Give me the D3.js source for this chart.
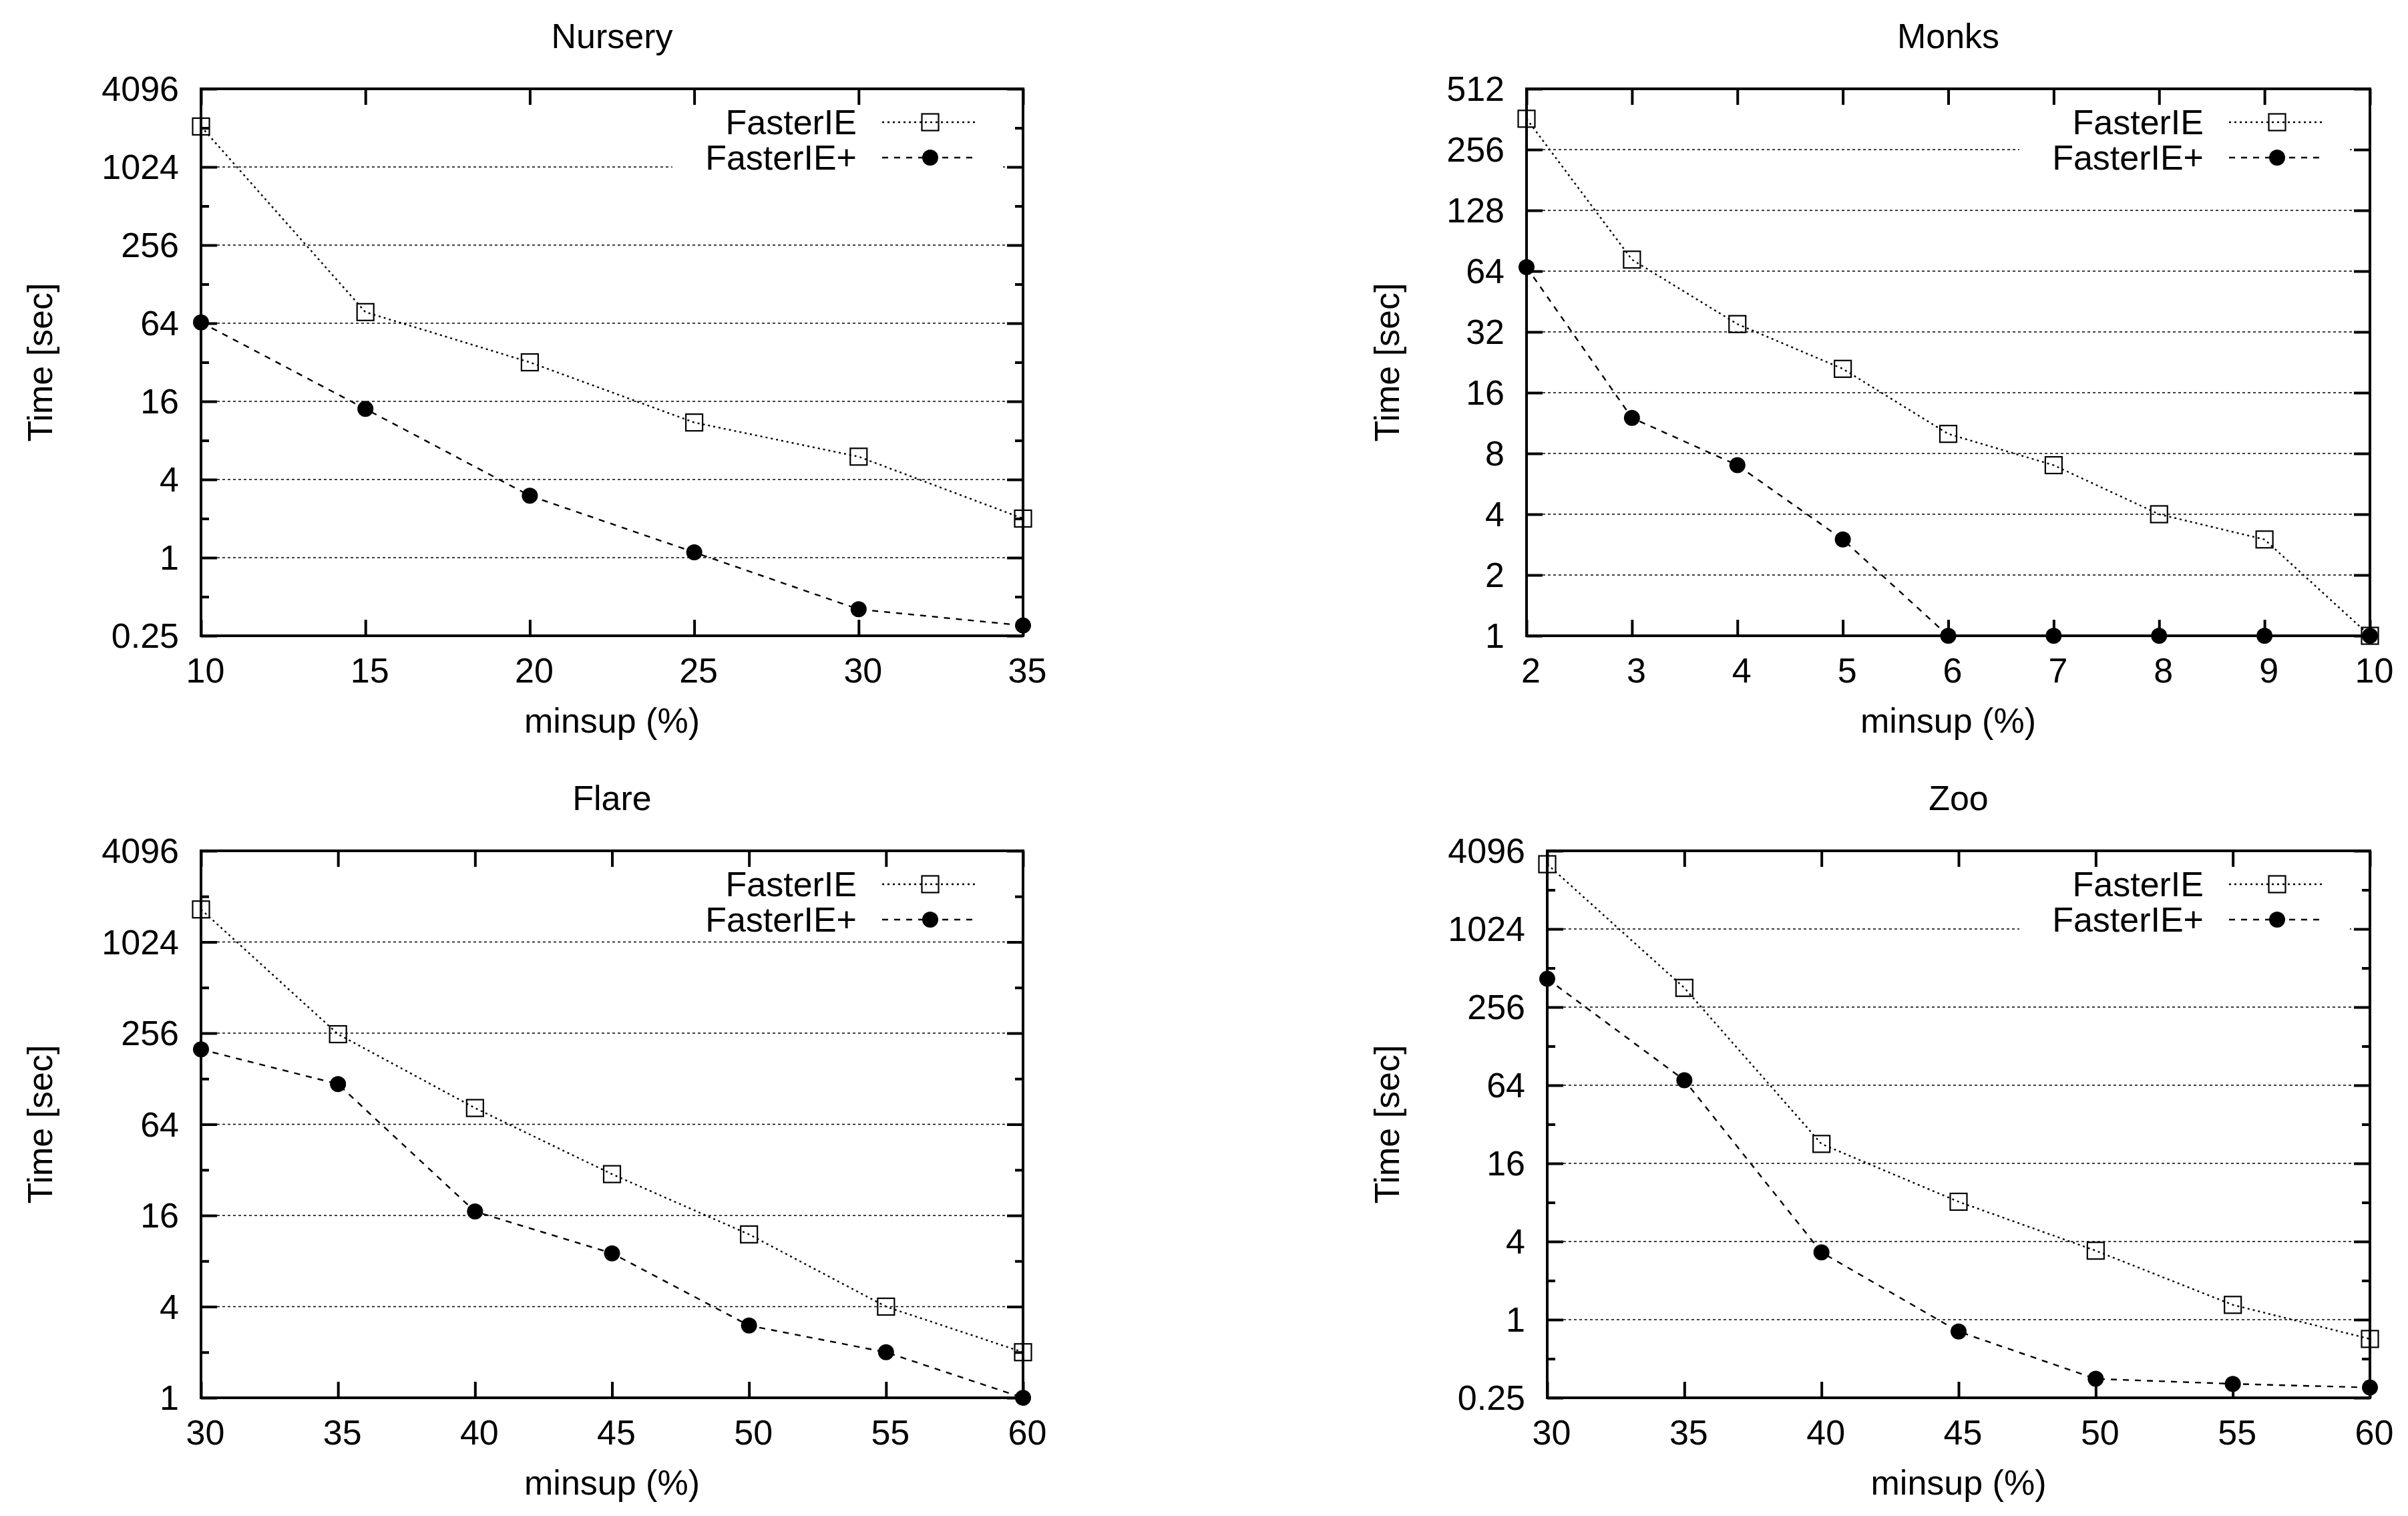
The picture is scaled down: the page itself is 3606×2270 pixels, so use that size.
<!DOCTYPE html>
<html>
<head>
<meta charset="utf-8">
<script src="https://cdn.jsdelivr.net/npm/d3@7"></script>
<style>
  body { margin: 0; background: #fff; }
  text { font-family: "Liberation Sans", Arial, sans-serif; }
</style>
</head>
<body>
<svg id="chart"></svg>
<script>
// ---- data ----
const nurseryMinsup = [10, 15, 20, 25, 30, 35];
const nurseryFasterIE = [2100, 78, 32, 11, 6, 2];
const nurseryFasterIEPlus = [65, 14, 3, 1.1, 0.4, 0.3];
const nurseryYTicks = [0.25, 1, 4, 16, 64, 256, 1024, 4096];
const nurseryYMinor = [0.5, 2, 8, 32, 128, 512, 2048];

const monksMinsup = [2, 3, 4, 5, 6, 7, 8, 9, 10];
const monksFasterIE = [364, 73, 35, 21, 10, 7, 4, 3, 1];
const monksFasterIEPlus = [67, 12, 7, 3, 1, 1, 1, 1, 1];
const monksYTicks = [1, 2, 4, 8, 16, 32, 64, 128, 256, 512];
const monksYMinor = [];

const flareMinsup = [30, 35, 40, 45, 50, 55, 60];
const flareFasterIE = [1680, 252, 82, 30, 12, 4, 2];
const flareFasterIEPlus = [200, 118, 17, 9, 3, 2, 1];
const flareYTicks = [1, 4, 16, 64, 256, 1024, 4096];
const flareYMinor = [2, 8, 32, 128, 512, 2048];

const zooMinsup = [30, 35, 40, 45, 50, 55, 60];
const zooFasterIE = [3230, 360, 22.6, 8.1, 3.4, 1.3, 0.71];
const zooFasterIEPlus = [423, 70, 3.3, 0.81, 0.35, 0.32, 0.30];
const zooYTicks = [0.25, 1, 4, 16, 64, 256, 1024, 4096];
const zooYMinor = [0.5, 2, 8, 32, 128, 512, 2048];

const seriesNames = ["FasterIE", "FasterIE+"];

const panels = [
  {title: "Nursery", x0: 0, y0: 0, left: 301, xs: nurseryMinsup, a: nurseryFasterIE, b: nurseryFasterIEPlus, yt: nurseryYTicks, ym: nurseryYMinor},
  {title: "Monks", x0: 2017, y0: 0, left: 269, xs: monksMinsup, a: monksFasterIE, b: monksFasterIEPlus, yt: monksYTicks, ym: monksYMinor},
  {title: "Flare", x0: 0, y0: 1141, left: 301, xs: flareMinsup, a: flareFasterIE, b: flareFasterIEPlus, yt: flareYTicks, ym: flareYMinor},
  {title: "Zoo", x0: 2017, y0: 1141, left: 300, xs: zooMinsup, a: zooFasterIE, b: zooFasterIEPlus, yt: zooYTicks, ym: zooYMinor}
];

const W = 3606, H = 2270;
const FS = 52;

const svg = d3.select("#chart").attr("width", W).attr("height", H);
svg.append("rect").attr("width", W).attr("height", H).attr("fill", "#fff");

const styles = [
  {dash: "3,5", marker: "square"},
  {dash: "9,9", marker: "circle"}
];

function drawMarker(g, kind, x, y) {
  if (kind === "square") {
    g.append("rect")
      .attr("x", x - 12.5).attr("y", y - 12.5)
      .attr("width", 25).attr("height", 25)
      .attr("fill", "none").attr("stroke", "#000").attr("stroke-width", 2.2);
  } else {
    g.append("circle")
      .attr("cx", x).attr("cy", y).attr("r", 12)
      .attr("fill", "#000");
  }
}

function styleAxis(g) {
  g.select(".domain").remove();
  g.selectAll(".tick line").attr("stroke", "#000").attr("stroke-width", 4);
  g.selectAll("text")
    .attr("fill", "#000")
    .style("font-family", "'Liberation Sans', Arial, sans-serif")
    .style("font-size", FS + "px");
  g.attr("font-size", null).attr("font-family", null);
}

panels.forEach(p => {
  const left = p.x0 + p.left, right = p.x0 + 1532;
  const top = p.y0 + 133, bottom = p.y0 + 952;
  const g = svg.append("g");

  const x = d3.scaleLinear().domain(d3.extent(p.xs)).range([left, right]);
  const y = d3.scaleLog().base(2)
    .domain([p.yt[0], p.yt[p.yt.length - 1]])
    .range([bottom, top]);

  // horizontal grid
  g.append("g").selectAll("line")
    .data(p.yt.slice(1, -1))
    .join("line")
    .attr("x1", left + 24).attr("x2", right - 24)
    .attr("y1", d => y(d)).attr("y2", d => y(d))
    .attr("stroke", "#000").attr("stroke-width", 1.3)
    .attr("stroke-dasharray", "4,4");

  // legend background clears the grid
  g.append("rect")
    .attr("x", right - 525).attr("y", top + 18)
    .attr("width", 495).attr("height", 110)
    .attr("fill", "#fff");

  // axes, ticks pointing inward
  const fmt = d => String(d);
  g.append("g").attr("transform", `translate(${left},0)`)
    .call(d3.axisLeft(y).tickValues(p.yt).tickFormat(fmt).tickSize(-24).tickPadding(33))
    .call(styleAxis)
    .selectAll("text").attr("dy", "0.34em");
  g.append("g").attr("transform", `translate(${left},0)`)
    .call(d3.axisLeft(y).tickValues(p.ym).tickFormat("").tickSize(-12))
    .call(styleAxis);
  g.append("g").attr("transform", `translate(${right},0)`)
    .call(d3.axisRight(y).tickValues(p.yt).tickFormat("").tickSize(-24))
    .call(styleAxis);
  g.append("g").attr("transform", `translate(${right},0)`)
    .call(d3.axisRight(y).tickValues(p.ym).tickFormat("").tickSize(-12))
    .call(styleAxis);
  g.append("g").attr("transform", `translate(0,${bottom})`)
    .call(d3.axisBottom(x).tickValues(p.xs).tickFormat(fmt).tickSize(-24).tickPadding(33))
    .call(styleAxis)
    .selectAll("text").attr("dx", 6);
  g.append("g").attr("transform", `translate(0,${top})`)
    .call(d3.axisTop(x).tickValues(p.xs).tickFormat("").tickSize(-24))
    .call(styleAxis);

  // frame
  g.append("rect")
    .attr("x", left).attr("y", top)
    .attr("width", right - left).attr("height", bottom - top)
    .attr("fill", "none").attr("stroke", "#000").attr("stroke-width", 4);

  // data
  [p.a, p.b].forEach((vals, i) => {
    const pts = p.xs.map((v, k) => [x(v), y(vals[k])]);
    g.append("path")
      .attr("d", d3.line()(pts))
      .attr("fill", "none").attr("stroke", "#000")
      .attr("stroke-width", 2.4)
      .attr("stroke-dasharray", styles[i].dash);
    pts.forEach(pt => drawMarker(g, styles[i].marker, pt[0], pt[1]));
  });

  // legend
  seriesNames.forEach((name, i) => {
    const ly = top + 50 + i * 53;
    g.append("text")
      .attr("x", right - 249).attr("y", ly).attr("dy", "0.35em")
      .attr("text-anchor", "end").style("font-size", FS + "px")
      .text(name);
    g.append("line")
      .attr("x1", right - 211).attr("x2", right - 68)
      .attr("y1", ly).attr("y2", ly)
      .attr("stroke", "#000").attr("stroke-width", 2.4)
      .attr("stroke-dasharray", styles[i].dash);
    drawMarker(g, styles[i].marker, right - 139, ly);
  });

  // titles
  const cx = (left + right) / 2;
  g.append("text").attr("x", cx).attr("y", p.y0 + 72)
    .attr("text-anchor", "middle").style("font-size", FS + "px")
    .text(p.title);
  g.append("text").attr("x", cx).attr("y", p.y0 + 1097)
    .attr("text-anchor", "middle").style("font-size", FS + "px")
    .text("minsup (%)");
  g.append("text")
    .attr("transform", `translate(${p.x0 + 78},${(top + bottom) / 2}) rotate(-90)`)
    .attr("text-anchor", "middle").style("font-size", FS + "px")
    .text("Time [sec]");
});
</script>
</body>
</html>
